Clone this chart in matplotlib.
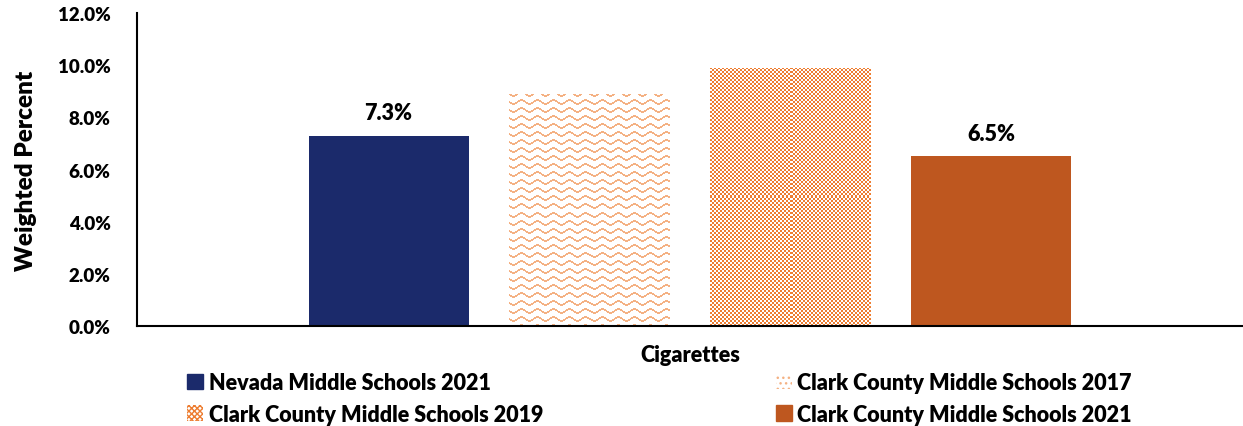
import numpy as np
import matplotlib
matplotlib.use("Agg")
import matplotlib.pyplot as plt
from matplotlib.patches import Patch
from matplotlib.ticker import FuncFormatter

plt.rcParams['font.family'] = ['Lato', 'DejaVu Sans']
plt.rcParams['font.weight'] = 'heavy'
plt.rcParams['hatch.linewidth'] = 1.0

category = "Cigarettes"
series = ["Nevada Middle Schools 2021", "Clark County Middle Schools 2017",
          "Clark County Middle Schools 2019", "Clark County Middle Schools 2021"]
values = [7.3, 8.9, 9.9, 6.5]
show_label = [True, False, False, True]

navy = "#1B2A6B"
light_orange = "#F4B183"
orange = "#ED7D31"
rust = "#BE571F"
W = 'heavy'


def wave_tile(h, w, color):
    rgb = np.array(matplotlib.colors.to_rgb(color))
    img = np.ones((h, w, 3))
    cols = np.arange(w)
    offs = np.round(2 * np.sin(2 * np.pi * cols / 16)).astype(int)
    for r in range(h):
        hit = ((r - offs) % 8) < 2
        img[r, hit] = rgb
    return img


def checker_tile(h, w, color):
    rgb = np.array(matplotlib.colors.to_rgb(color))
    img = np.ones((h, w, 3))
    rr, cc = np.mgrid[0:h, 0:w]
    mask = ((rr // 2) + (cc // 2)) % 2 == 0
    img[mask] = rgb
    return img


fig = plt.figure(figsize=(12.43, 4.27), dpi=100)
ax = fig.add_axes([0.1102, 0.2342, 0.8898, 0.7330])

width = 0.1447
step = 0.1817
offsets = (np.arange(len(series)) - 1.5) * step

ax.set_xlim(-0.5, 0.5)
ax.set_ylim(0, 12)

styles = [("solid", navy), ("wave", light_orange), ("checker", orange), ("solid", rust)]
for i, (name, val) in enumerate(zip(series, values)):
    kind, col = styles[i]
    if kind == "solid":
        bars = ax.bar(offsets[i], val, width, color=col)
    else:
        bars = ax.bar(offsets[i], val, width, color="none", edgecolor="none")
        b = bars[0]
        x0, y0 = b.get_x(), b.get_y()
        x1, y1 = x0 + b.get_width(), y0 + b.get_height()
        p0 = ax.transData.transform((x0, y0))
        p1 = ax.transData.transform((x1, y1))
        wpx = int(round(p1[0] - p0[0]))
        hpx = int(round(p1[1] - p0[1]))
        tile = wave_tile(hpx, wpx, col) if kind == "wave" else checker_tile(hpx, wpx, col)
        im = ax.imshow(tile, extent=(x0, x1, y0, y1), aspect='auto',
                       interpolation='nearest', zorder=2)
        im.set_clip_path(b)
    if show_label[i]:
        ax.annotate(f"{val:.1f}%", (offsets[i], val), xytext=(0, 9),
                    textcoords='offset points', ha='center', va='bottom',
                    fontsize=15.5, fontweight=W)

ax.set_xlim(-0.5, 0.5)
ax.set_ylim(0, 12)
ax.set_yticks(np.arange(0, 12.1, 2))
ax.yaxis.set_major_formatter(FuncFormatter(lambda v, p: f"{v:.1f}%"))
ax.set_xticks([])
ax.tick_params(axis='y', length=0, labelsize=13.5, pad=19)
for t in ax.get_yticklabels():
    t.set_fontweight(W)
ax.spines['top'].set_visible(False)
ax.spines['right'].set_visible(False)
ax.spines['left'].set_linewidth(1.5)
ax.spines['bottom'].set_linewidth(1.5)
ax.set_ylabel("Weighted Percent", fontsize=17.5, fontweight=W, labelpad=15)
ax.set_xlabel(category, fontsize=15.5, fontweight=W, labelpad=13)

handles = [
    Patch(facecolor=navy, edgecolor=navy, label=series[0]),
    Patch(facecolor="white", edgecolor=orange, hatch="xxxxxx", linewidth=0, label=series[2]),
    Patch(facecolor="white", edgecolor=light_orange, hatch="...", linewidth=0, label=series[1]),
    Patch(facecolor=rust, edgecolor=rust, label=series[3]),
]
fig.legend(handles=handles, ncol=2, loc='upper left', bbox_to_anchor=(0.135, 0.172),
           frameon=False, handlelength=0.75, handleheight=0.75,
           handletextpad=0.25, columnspacing=10.8, labelspacing=0.5,
           prop={'weight': W, 'size': 15.5})

fig.savefig("out.png", dpi=100)
